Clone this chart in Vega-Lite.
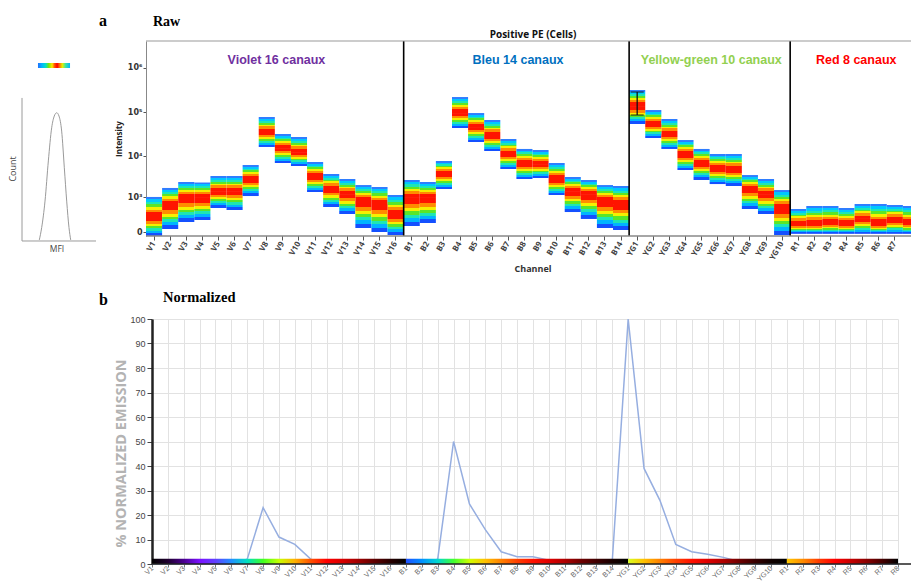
{
  "$schema": "https://vega.github.io/schema/vega-lite/v6.json",
  "padding": {"left": 9, "top": 13, "right": 0, "bottom": 0},
  "spacing": 16,
  "config": {
    "view": {"stroke": null},
    "font": "Liberation Sans",
    "axis": {"labelFont": "Liberation Sans", "titleFont": "Liberation Sans"}
  },
  "vconcat": [
    {
      "bounds": "flush",
      "spacing": 50,
      "hconcat": [
        {
          "width": 74,
          "height": 195,
          "title": {"text": "a", "anchor": "end", "frame": "group", "dx": 11, "offset": -1, "baseline": "alphabetic", "font": "Liberation Serif", "fontSize": 16, "fontWeight": "bold", "color": "#000"},
          "layer": [
            {
              "data": {"values": [{}]},
              "mark": {"type": "rect", "fill": {"gradient": "linear", "x1": 0, "y1": 0, "x2": 1, "y2": 0, "stops": [
                {"offset": 0, "color": "#2070ff"}, {"offset": 0.12, "color": "#00b4ff"}, {"offset": 0.24, "color": "#00e0c8"},
                {"offset": 0.34, "color": "#7ae600"}, {"offset": 0.44, "color": "#ffe600"}, {"offset": 0.52, "color": "#ff5000"},
                {"offset": 0.6, "color": "#ff0000"}, {"offset": 0.68, "color": "#ff7800"}, {"offset": 0.76, "color": "#e6f000"},
                {"offset": 0.86, "color": "#3ce6a0"}, {"offset": 1, "color": "#00b4ff"}]}},
              "encoding": {
                "x": {"datum": 0.216, "type": "quantitative", "scale": {"domain": [0, 1], "nice": false}, "axis": null},
                "x2": {"datum": 0.649},
                "y": {"datum": 0.862, "type": "quantitative", "scale": {"domain": [0, 1], "nice": false}, "axis": null},
                "y2": {"datum": 0.887}
              }
            },
            {
              "data": {"values": [
                {"mfi": 0.234, "count": -0.02}, {"mfi": 0.266, "count": 0.043}, {"mfi": 0.311, "count": 0.179},
                {"mfi": 0.356, "count": 0.385}, {"mfi": 0.401, "count": 0.555}, {"mfi": 0.436, "count": 0.615},
                {"mfi": 0.469, "count": 0.632}, {"mfi": 0.5, "count": 0.615}, {"mfi": 0.536, "count": 0.538},
                {"mfi": 0.572, "count": 0.35}, {"mfi": 0.604, "count": 0.179}, {"mfi": 0.635, "count": 0.043},
                {"mfi": 0.658, "count": -0.02}]},
              "mark": {"type": "line", "interpolate": "monotone", "color": "#9a9a9a", "strokeWidth": 1},
              "encoding": {
                "x": {"field": "mfi", "type": "quantitative", "scale": {"domain": [0, 1], "nice": false}, "axis": null},
                "y": {"field": "count", "type": "quantitative", "scale": {"domain": [0, 1], "nice": false}, "axis": null}
              }
            },
            {
              "data": {"values": [{}]},
              "mark": {"type": "rule", "color": "#9a9a9a", "strokeWidth": 1},
              "encoding": {
                "x": {"datum": 0, "type": "quantitative", "scale": {"domain": [0, 1], "nice": false}, "axis": null},
                "y": {"datum": -0.0256, "type": "quantitative", "scale": {"domain": [0, 1], "nice": false}, "axis": null},
                "y2": {"datum": 0.708}
              }
            },
            {
              "data": {"values": [{}]},
              "mark": {"type": "rule", "color": "#9a9a9a", "strokeWidth": 1},
              "encoding": {
                "x": {"datum": 0, "type": "quantitative", "scale": {"domain": [0, 1], "nice": false}, "axis": null},
                "x2": {"datum": 1},
                "y": {"datum": -0.0256, "type": "quantitative", "scale": {"domain": [0, 1], "nice": false}, "axis": null}
              }
            },
            {
              "data": {"values": [{"t": "Count"}]},
              "mark": {"type": "text", "angle": 270, "fontSize": 9, "color": "#444", "font": "Open Sans"},
              "encoding": {
                "x": {"datum": -0.118, "type": "quantitative", "scale": {"domain": [0, 1], "nice": false}, "axis": null},
                "y": {"datum": 0.344, "type": "quantitative", "scale": {"domain": [0, 1], "nice": false}, "axis": null},
                "text": {"field": "t"}
              }
            },
            {
              "data": {"values": [{"t": "MFI"}]},
              "mark": {"type": "text", "fontSize": 8.5, "color": "#444", "font": "Open Sans"},
              "encoding": {
                "x": {"datum": 0.473, "type": "quantitative", "scale": {"domain": [0, 1], "nice": false}, "axis": null},
                "y": {"datum": -0.067, "type": "quantitative", "scale": {"domain": [0, 1], "nice": false}, "axis": null},
                "text": {"field": "t"}
              }
            }
          ]
        },
        {
          "width": 765,
          "height": 195,
          "title": {"text": "Raw", "anchor": "start", "frame": "group", "dx": 7, "offset": -11, "baseline": "alphabetic", "font": "Liberation Serif", "fontSize": 14, "fontWeight": "bold", "color": "#000"},
          "resolve": {"axis": {"x": "independent", "y": "independent"}},
          "layer": [
            {
              "data": {"name": "heat", "values": [
                {"ch": "V1", "lo": -45, "mid": 235, "hi": 1030},
                {"ch": "V2", "lo": 34, "mid": 610, "hi": 1760},
                {"ch": "V3", "lo": 136, "mid": 967, "hi": 2470},
                {"ch": "V4", "lo": 173, "mid": 967, "hi": 2400},
                {"ch": "V5", "lo": 494, "mid": 1470, "hi": 3440},
                {"ch": "V6", "lo": 425, "mid": 1470, "hi": 3440},
                {"ch": "V7", "lo": 1090, "mid": 2920, "hi": 6240},
                {"ch": "V8", "lo": 16200, "mid": 35400, "hi": 77300},
                {"ch": "V9", "lo": 6940, "mid": 15300, "hi": 31900},
                {"ch": "V10", "lo": 5910, "mid": 12400, "hi": 27300},
                {"ch": "V11", "lo": 1390, "mid": 3440, "hi": 7320},
                {"ch": "V12", "lo": 530, "mid": 1660, "hi": 3840},
                {"ch": "V13", "lo": 308, "mid": 1230, "hi": 2920},
                {"ch": "V14", "lo": 46, "mid": 797, "hi": 2080},
                {"ch": "V15", "lo": 0, "mid": 653, "hi": 1860},
                {"ch": "V16", "lo": -34, "mid": 308, "hi": 1160},
                {"ch": "B1", "lo": 73, "mid": 967, "hi": 2760},
                {"ch": "B2", "lo": 119, "mid": 967, "hi": 2470},
                {"ch": "B3", "lo": 1660, "mid": 3840, "hi": 7730},
                {"ch": "B4", "lo": 43600, "mid": 95000, "hi": 218000},
                {"ch": "B5", "lo": 21000, "mid": 45900, "hi": 95000},
                {"ch": "B6", "lo": 13100, "mid": 30300, "hi": 66100},
                {"ch": "B7", "lo": 5030, "mid": 11200, "hi": 24600},
                {"ch": "B8", "lo": 2920, "mid": 6940, "hi": 14600},
                {"ch": "B9", "lo": 3080, "mid": 6570, "hi": 13800},
                {"ch": "B10", "lo": 1160, "mid": 2920, "hi": 6940},
                {"ch": "B11", "lo": 363, "mid": 1470, "hi": 3260},
                {"ch": "B12", "lo": 193, "mid": 1230, "hi": 2760},
                {"ch": "B13", "lo": 46, "mid": 797, "hi": 2080},
                {"ch": "B14", "lo": 22, "mid": 653, "hi": 1970},
                {"ch": "YG1", "lo": 53700, "mid": 136600, "hi": 313500},
                {"ch": "YG2", "lo": 25900, "mid": 53700, "hi": 111000},
                {"ch": "YG3", "lo": 14600, "mid": 31900, "hi": 69600},
                {"ch": "YG4", "lo": 4770, "mid": 11200, "hi": 23300},
                {"ch": "YG5", "lo": 2760, "mid": 6940, "hi": 14600},
                {"ch": "YG6", "lo": 2200, "mid": 5310, "hi": 11200},
                {"ch": "YG7", "lo": 1970, "mid": 5030, "hi": 11200},
                {"ch": "YG8", "lo": 459, "mid": 1660, "hi": 3630},
                {"ch": "YG9", "lo": 308, "mid": 1230, "hi": 2920},
                {"ch": "YG10", "lo": -34, "mid": 494, "hi": 1560},
                {"ch": "R1", "lo": -20, "mid": 103, "hi": 459},
                {"ch": "R2", "lo": -20, "mid": 103, "hi": 569},
                {"ch": "R3", "lo": -20, "mid": 119, "hi": 569},
                {"ch": "R4", "lo": -20, "mid": 103, "hi": 494},
                {"ch": "R5", "lo": -20, "mid": 193, "hi": 653},
                {"ch": "R6", "lo": -20, "mid": 103, "hi": 653},
                {"ch": "R7", "lo": -20, "mid": 173, "hi": 610},
                {"ch": "R8", "lo": -20, "mid": 119, "hi": 569}
              ]},
              "mark": {"type": "rect", "clip": true, "fill": {"gradient": "linear", "x1": 0, "y1": 0, "x2": 0, "y2": 1, "stops": [
                {"offset": 0, "color": "#2f7dff"}, {"offset": 0.12, "color": "#2f7dff"},
                {"offset": 0.12, "color": "#00c8ff"}, {"offset": 0.25, "color": "#00c8ff"},
                {"offset": 0.25, "color": "#1ee6b4"}, {"offset": 0.37, "color": "#1ee6b4"},
                {"offset": 0.37, "color": "#5ae628"}, {"offset": 0.5, "color": "#5ae628"},
                {"offset": 0.5, "color": "#f5f000"}, {"offset": 0.63, "color": "#f5f000"},
                {"offset": 0.63, "color": "#ff8c00"}, {"offset": 0.77, "color": "#ff8c00"},
                {"offset": 0.77, "color": "#ff1400"}, {"offset": 1, "color": "#ff1400"}]}},
              "encoding": {
                "x": {"field": "ch", "type": "ordinal",
                  "scale": {"type": "band", "domain": ["V1","V2","V3","V4","V5","V6","V7","V8","V9","V10","V11","V12","V13","V14","V15","V16","B1","B2","B3","B4","B5","B6","B7","B8","B9","B10","B11","B12","B13","B14","YG1","YG2","YG3","YG4","YG5","YG6","YG7","YG8","YG9","YG10","R1","R2","R3","R4","R5","R6","R7","R8"], "range": [0, 773], "paddingInner": 0, "paddingOuter": 0},
                  "axis": {"orient": "bottom", "values": ["V1","V2","V3","V4","V5","V6","V7","V8","V9","V10","V11","V12","V13","V14","V15","V16","B1","B2","B3","B4","B5","B6","B7","B8","B9","B10","B11","B12","B13","B14","YG1","YG2","YG3","YG4","YG5","YG6","YG7","YG8","YG9","YG10","R1","R2","R3","R4","R5","R6","R7"],
                    "title": "Channel", "titleFont": "Open Sans", "titleFontSize": 9, "titleFontWeight": "bold", "titleColor": "#333", "titlePadding": 3,
                    "labelFont": "Open Sans", "labelAngle": -60, "labelAlign": "right", "labelBaseline": "middle", "labelFontSize": 8, "labelFontWeight": "bold", "labelColor": "#444", "labelPadding": 2,
                    "tickSize": 4, "tickColor": "#555", "domain": false, "grid": false}},
                "y": {"field": "mid", "type": "quantitative",
                  "scale": {"type": "symlog", "constant": 200, "domain": [-46, 3980000], "nice": false, "zero": false},
                  "axis": {"orient": "left", "values": [0, 1000, 10000, 100000, 1000000],
                    "labelExpr": "datum.value == 0 ? '0' : datum.value == 1000 ? '10³' : datum.value == 10000 ? '10⁴' : datum.value == 100000 ? '10⁵' : '10⁶'",
                    "title": "Intensity", "titleFont": "Open Sans", "titleFontSize": 8, "titleFontWeight": "bold", "titleColor": "#222", "titlePadding": 4,
                    "labelFont": "DejaVu Sans", "labelFontSize": 8, "labelFontWeight": "bold", "labelColor": "#333", "labelPadding": 1,
                    "domainColor": "#888", "tickColor": "#555", "tickSize": 3, "grid": false}},
                "y2": {"field": "hi"}
              }
            },
            {
              "data": {"name": "heat"},
              "mark": {"type": "rect", "clip": true, "fill": {"gradient": "linear", "x1": 0, "y1": 0, "x2": 0, "y2": 1, "stops": [
                {"offset": 0, "color": "#ff1400"}, {"offset": 0.22, "color": "#ff1400"},
                {"offset": 0.22, "color": "#ff8c00"}, {"offset": 0.36, "color": "#ff8c00"},
                {"offset": 0.36, "color": "#f5f000"}, {"offset": 0.48, "color": "#f5f000"},
                {"offset": 0.48, "color": "#5ae628"}, {"offset": 0.6, "color": "#5ae628"},
                {"offset": 0.6, "color": "#1ee6b4"}, {"offset": 0.72, "color": "#1ee6b4"},
                {"offset": 0.72, "color": "#00b4ff"}, {"offset": 0.85, "color": "#00b4ff"},
                {"offset": 0.85, "color": "#1450ff"}, {"offset": 1, "color": "#1450ff"}]}},
              "encoding": {
                "x": {"field": "ch", "type": "ordinal",
                  "scale": {"type": "band", "domain": ["V1","V2","V3","V4","V5","V6","V7","V8","V9","V10","V11","V12","V13","V14","V15","V16","B1","B2","B3","B4","B5","B6","B7","B8","B9","B10","B11","B12","B13","B14","YG1","YG2","YG3","YG4","YG5","YG6","YG7","YG8","YG9","YG10","R1","R2","R3","R4","R5","R6","R7","R8"], "range": [0, 773], "paddingInner": 0, "paddingOuter": 0},
                  "axis": null},
                "y": {"field": "lo", "type": "quantitative", "scale": {"type": "symlog", "constant": 200, "domain": [-46, 3980000], "nice": false, "zero": false}, "axis": null},
                "y2": {"field": "mid"}
              }
            },
            {
              "data": {"values": [{"ch": "YG1", "lo": 85700, "hi": 282600}]},
              "mark": {"type": "errorbar", "ticks": true, "size": 13, "color": "#111", "thickness": 1.3},
              "encoding": {
                "x": {"field": "ch", "type": "ordinal",
                  "scale": {"type": "band", "domain": ["V1","V2","V3","V4","V5","V6","V7","V8","V9","V10","V11","V12","V13","V14","V15","V16","B1","B2","B3","B4","B5","B6","B7","B8","B9","B10","B11","B12","B13","B14","YG1","YG2","YG3","YG4","YG5","YG6","YG7","YG8","YG9","YG10","R1","R2","R3","R4","R5","R6","R7","R8"], "range": [0, 773], "paddingInner": 0, "paddingOuter": 0},
                  "axis": null},
                "y": {"field": "lo", "type": "quantitative", "scale": {"type": "symlog", "constant": 200, "domain": [-46, 3980000], "nice": false, "zero": false}, "axis": null},
                "y2": {"field": "hi"}
              }
            },
            {
              "data": {"values": [{"ch": "B1"}, {"ch": "YG1"}, {"ch": "R1"}]},
              "mark": {"type": "rule", "color": "#000", "strokeWidth": 1.6},
              "encoding": {
                "x": {"field": "ch", "type": "ordinal", "bandPosition": 0,
                  "scale": {"type": "band", "domain": ["V1","V2","V3","V4","V5","V6","V7","V8","V9","V10","V11","V12","V13","V14","V15","V16","B1","B2","B3","B4","B5","B6","B7","B8","B9","B10","B11","B12","B13","B14","YG1","YG2","YG3","YG4","YG5","YG6","YG7","YG8","YG9","YG10","R1","R2","R3","R4","R5","R6","R7","R8"], "range": [0, 773], "paddingInner": 0, "paddingOuter": 0},
                  "axis": {"orient": "top", "labels": false, "ticks": false, "domain": false, "grid": false, "title": "Positive PE (Cells)", "titleFont": "Open Sans", "titleFontSize": 10, "titleFontWeight": "bold", "titleColor": "#111", "titlePadding": 2}}
              }
            },
            {
              "data": {"values": [{}]},
              "mark": {"type": "rule", "color": "#999", "strokeWidth": 1},
              "encoding": {
                "y": {"datum": 3980000, "type": "quantitative", "scale": {"type": "symlog", "constant": 200, "domain": [-46, 3980000], "nice": false, "zero": false}, "axis": null}
              }
            },
            {
              "data": {"values": [{}]},
              "mark": {"type": "rule", "color": "#888", "strokeWidth": 1.5},
              "encoding": {
                "y": {"datum": -46, "type": "quantitative", "scale": {"type": "symlog", "constant": 200, "domain": [-46, 3980000], "nice": false, "zero": false}, "axis": null}
              }
            },
            {
              "data": {"values": [
                {"ch": "V9", "label": "Violet 16 canaux"},
                {"ch": "B8", "label": "Bleu 14 canaux"},
                {"ch": "YG6", "label": "Yellow-green 10 canaux"},
                {"ch": "R5", "label": "Red 8 canaux"}]},
              "mark": {"type": "text", "fontSize": 12.5, "fontWeight": "bold", "font": "Liberation Sans", "baseline": "middle", "align": "center"},
              "encoding": {
                "x": {"field": "ch", "type": "ordinal", "bandPosition": 0.1,
                  "scale": {"type": "band", "domain": ["V1","V2","V3","V4","V5","V6","V7","V8","V9","V10","V11","V12","V13","V14","V15","V16","B1","B2","B3","B4","B5","B6","B7","B8","B9","B10","B11","B12","B13","B14","YG1","YG2","YG3","YG4","YG5","YG6","YG7","YG8","YG9","YG10","R1","R2","R3","R4","R5","R6","R7","R8"], "range": [0, 773], "paddingInner": 0, "paddingOuter": 0},
                  "axis": null},
                "y": {"datum": 1490000, "type": "quantitative", "scale": {"type": "symlog", "constant": 200, "domain": [-46, 3980000], "nice": false, "zero": false}, "axis": null},
                "text": {"field": "label"},
                "color": {"field": "label", "type": "nominal", "scale": {"domain": ["Violet 16 canaux", "Bleu 14 canaux", "Yellow-green 10 canaux", "Red 8 canaux"], "range": ["#7030a0", "#0070c0", "#92d050", "#ff0000"]}, "legend": null}
              }
            }
          ]
        }
      ]
    },
    {
      "bounds": "flush",
      "spacing": 50,
      "hconcat": [
        {
          "width": 80,
          "height": 245,
          "title": {"text": "b", "anchor": "end", "frame": "group", "dx": 6, "offset": -2, "baseline": "alphabetic", "font": "Liberation Serif", "fontSize": 16, "fontWeight": "bold", "color": "#000"},
          "data": {"values": [{}]},
          "mark": {"type": "text"},
          "encoding": {"text": {"value": ""}}
        },
        {
          "width": 759,
          "height": 245,
          "title": {"text": "Normalized", "anchor": "start", "frame": "group", "dx": 11, "offset": -1.5, "baseline": "alphabetic", "font": "Liberation Serif", "fontSize": 14.5, "fontWeight": "bold", "color": "#000"},
          "resolve": {"axis": {"x": "independent", "y": "independent"}},
          "layer": [
            {
              "data": {"values": [
                {"ch": "V1", "v": 0}, {"ch": "V2", "v": 0}, {"ch": "V3", "v": 0}, {"ch": "V4", "v": 0},
                {"ch": "V5", "v": 0}, {"ch": "V6", "v": 0}, {"ch": "V7", "v": 2}, {"ch": "V8", "v": 23},
                {"ch": "V9", "v": 11}, {"ch": "V10", "v": 8}, {"ch": "V11", "v": 2}, {"ch": "V12", "v": 0},
                {"ch": "V13", "v": 0}, {"ch": "V14", "v": 0}, {"ch": "V15", "v": 0}, {"ch": "V16", "v": 0},
                {"ch": "B1", "v": 0}, {"ch": "B2", "v": 0}, {"ch": "B3", "v": 2}, {"ch": "B4", "v": 50},
                {"ch": "B5", "v": 24.5}, {"ch": "B6", "v": 14}, {"ch": "B7", "v": 5}, {"ch": "B8", "v": 3},
                {"ch": "B9", "v": 3}, {"ch": "B10", "v": 1.5}, {"ch": "B11", "v": 0.5}, {"ch": "B12", "v": 0.5},
                {"ch": "B13", "v": 0.5}, {"ch": "B14", "v": 1.5}, {"ch": "YG1", "v": 100}, {"ch": "YG2", "v": 39},
                {"ch": "YG3", "v": 26}, {"ch": "YG4", "v": 8}, {"ch": "YG5", "v": 5}, {"ch": "YG6", "v": 4},
                {"ch": "YG7", "v": 2.7}, {"ch": "YG8", "v": 1}, {"ch": "YG9", "v": 0}, {"ch": "YG10", "v": 0},
                {"ch": "R1", "v": 0}, {"ch": "R2", "v": 0}, {"ch": "R3", "v": 0}, {"ch": "R4", "v": 0},
                {"ch": "R5", "v": 0}, {"ch": "R6", "v": 0}, {"ch": "R7", "v": 0}, {"ch": "R8", "v": 0}]},
              "mark": {"type": "line", "color": "#96aee0", "strokeWidth": 1.5},
              "encoding": {
                "x": {"field": "ch", "type": "ordinal",
                  "scale": {"type": "point", "domain": ["V1","V2","V3","V4","V5","V6","V7","V8","V9","V10","V11","V12","V13","V14","V15","V16","B1","B2","B3","B4","B5","B6","B7","B8","B9","B10","B11","B12","B13","B14","YG1","YG2","YG3","YG4","YG5","YG6","YG7","YG8","YG9","YG10","R1","R2","R3","R4","R5","R6","R7","R8"], "range": [0, 746], "padding": 0},
                  "axis": {"orient": "bottom", "title": null, "grid": true, "gridColor": "#e2e2e2", "labelAngle": -45, "labelAlign": "right", "labelBaseline": "middle", "labelFontSize": 7.2, "labelColor": "#666", "labelPadding": 0, "tickSize": 3, "tickColor": "#777", "domain": false}},
                "y": {"field": "v", "type": "quantitative",
                  "scale": {"domain": [0, 100], "nice": false},
                  "axis": {"orient": "left", "title": "% NORMALIZED EMISSION", "titleFont": "Open Sans", "titleFontSize": 14.5, "titleFontWeight": "bold", "titleColor": "#b3b3b3",
                    "titleX": -31, "titleY": 134, "titleAngle": 270, "titleAlign": "center", "titleBaseline": "middle",
                    "values": [0, 10, 20, 30, 40, 50, 60, 70, 80, 90, 100], "grid": true, "gridColor": "#e2e2e2",
                    "labelFontSize": 9, "labelColor": "#444", "tickSize": 5, "tickColor": "#444", "domainColor": "#222", "domainWidth": 2.5}},
                "order": {"value": null}
              }
            },
            {
              "data": {"values": [{"start": "V1", "end": "B1"}]},
              "mark": {"type": "rect", "fill": {"gradient": "linear", "x1": 0, "y1": 0, "x2": 1, "y2": 0, "stops": [
                {"offset": 0, "color": "#000000"}, {"offset": 0.0625, "color": "#200030"}, {"offset": 0.125, "color": "#4a0090"},
                {"offset": 0.1875, "color": "#7a10ff"}, {"offset": 0.25, "color": "#6040ff"}, {"offset": 0.3125, "color": "#2090ff"},
                {"offset": 0.375, "color": "#00e0c0"}, {"offset": 0.4375, "color": "#40ff20"}, {"offset": 0.5, "color": "#c8ff00"},
                {"offset": 0.5625, "color": "#ffb000"}, {"offset": 0.625, "color": "#ff5000"}, {"offset": 0.6875, "color": "#ff0000"},
                {"offset": 0.75, "color": "#d80000"}, {"offset": 0.8125, "color": "#a00000"}, {"offset": 0.875, "color": "#600000"},
                {"offset": 0.9375, "color": "#280000"}, {"offset": 1, "color": "#000000"}]}},
              "encoding": {
                "x": {"field": "start", "type": "ordinal",
                  "scale": {"type": "point", "domain": ["V1","V2","V3","V4","V5","V6","V7","V8","V9","V10","V11","V12","V13","V14","V15","V16","B1","B2","B3","B4","B5","B6","B7","B8","B9","B10","B11","B12","B13","B14","YG1","YG2","YG3","YG4","YG5","YG6","YG7","YG8","YG9","YG10","R1","R2","R3","R4","R5","R6","R7","R8"], "range": [0, 746], "padding": 0},
                  "axis": null},
                "x2": {"field": "end"},
                "y": {"datum": 0, "type": "quantitative", "scale": {"domain": [0, 100], "nice": false}, "axis": null},
                "y2": {"datum": 2.1}
              }
            },
            {
              "data": {"values": [{"start": "B1", "end": "YG1"}]},
              "mark": {"type": "rect", "fill": {"gradient": "linear", "x1": 0, "y1": 0, "x2": 1, "y2": 0, "stops": [
                {"offset": 0, "color": "#2050ff"}, {"offset": 0.071, "color": "#0090ff"}, {"offset": 0.143, "color": "#00d8d0"},
                {"offset": 0.214, "color": "#40ff30"}, {"offset": 0.286, "color": "#d0ff00"}, {"offset": 0.357, "color": "#ffc000"},
                {"offset": 0.429, "color": "#ff8000"}, {"offset": 0.5, "color": "#ff4000"}, {"offset": 0.571, "color": "#ff1000"},
                {"offset": 0.643, "color": "#e00000"}, {"offset": 0.714, "color": "#b00000"}, {"offset": 0.786, "color": "#700000"},
                {"offset": 0.857, "color": "#400000"}, {"offset": 0.929, "color": "#180000"}, {"offset": 1, "color": "#000000"}]}},
              "encoding": {
                "x": {"field": "start", "type": "ordinal",
                  "scale": {"type": "point", "domain": ["V1","V2","V3","V4","V5","V6","V7","V8","V9","V10","V11","V12","V13","V14","V15","V16","B1","B2","B3","B4","B5","B6","B7","B8","B9","B10","B11","B12","B13","B14","YG1","YG2","YG3","YG4","YG5","YG6","YG7","YG8","YG9","YG10","R1","R2","R3","R4","R5","R6","R7","R8"], "range": [0, 746], "padding": 0},
                  "axis": null},
                "x2": {"field": "end"},
                "y": {"datum": 0, "type": "quantitative", "scale": {"domain": [0, 100], "nice": false}, "axis": null},
                "y2": {"datum": 2.1}
              }
            },
            {
              "data": {"values": [{"start": "YG1", "end": "R1"}]},
              "mark": {"type": "rect", "fill": {"gradient": "linear", "x1": 0, "y1": 0, "x2": 1, "y2": 0, "stops": [
                {"offset": 0, "color": "#d8ff20"}, {"offset": 0.1, "color": "#ffc000"}, {"offset": 0.2, "color": "#ff8000"},
                {"offset": 0.3, "color": "#ff4000"}, {"offset": 0.4, "color": "#ff1000"}, {"offset": 0.5, "color": "#e00000"},
                {"offset": 0.6, "color": "#b00000"}, {"offset": 0.7, "color": "#700000"}, {"offset": 0.8, "color": "#380000"},
                {"offset": 0.9, "color": "#100000"}, {"offset": 1, "color": "#000000"}]}},
              "encoding": {
                "x": {"field": "start", "type": "ordinal",
                  "scale": {"type": "point", "domain": ["V1","V2","V3","V4","V5","V6","V7","V8","V9","V10","V11","V12","V13","V14","V15","V16","B1","B2","B3","B4","B5","B6","B7","B8","B9","B10","B11","B12","B13","B14","YG1","YG2","YG3","YG4","YG5","YG6","YG7","YG8","YG9","YG10","R1","R2","R3","R4","R5","R6","R7","R8"], "range": [0, 746], "padding": 0},
                  "axis": null},
                "x2": {"field": "end"},
                "y": {"datum": 0, "type": "quantitative", "scale": {"domain": [0, 100], "nice": false}, "axis": null},
                "y2": {"datum": 2.1}
              }
            },
            {
              "data": {"values": [{"start": "R1", "end": "R8"}]},
              "mark": {"type": "rect", "fill": {"gradient": "linear", "x1": 0, "y1": 0, "x2": 1, "y2": 0, "stops": [
                {"offset": 0, "color": "#ffc800"}, {"offset": 0.143, "color": "#ff8c00"}, {"offset": 0.286, "color": "#ff3c00"},
                {"offset": 0.429, "color": "#ff0000"}, {"offset": 0.571, "color": "#c80000"}, {"offset": 0.714, "color": "#8c0000"},
                {"offset": 0.857, "color": "#460000"}, {"offset": 1, "color": "#000000"}]}},
              "encoding": {
                "x": {"field": "start", "type": "ordinal",
                  "scale": {"type": "point", "domain": ["V1","V2","V3","V4","V5","V6","V7","V8","V9","V10","V11","V12","V13","V14","V15","V16","B1","B2","B3","B4","B5","B6","B7","B8","B9","B10","B11","B12","B13","B14","YG1","YG2","YG3","YG4","YG5","YG6","YG7","YG8","YG9","YG10","R1","R2","R3","R4","R5","R6","R7","R8"], "range": [0, 746], "padding": 0},
                  "axis": null},
                "x2": {"field": "end"},
                "y": {"datum": 0, "type": "quantitative", "scale": {"domain": [0, 100], "nice": false}, "axis": null},
                "y2": {"datum": 2.1}
              }
            },
            {
              "data": {"values": [{}]},
              "mark": {"type": "rule", "color": "#222", "strokeWidth": 1.5},
              "encoding": {
                "y": {"datum": 0, "type": "quantitative", "scale": {"domain": [0, 100], "nice": false}, "axis": null}
              }
            }
          ]
        }
      ]
    }
  ]
}
